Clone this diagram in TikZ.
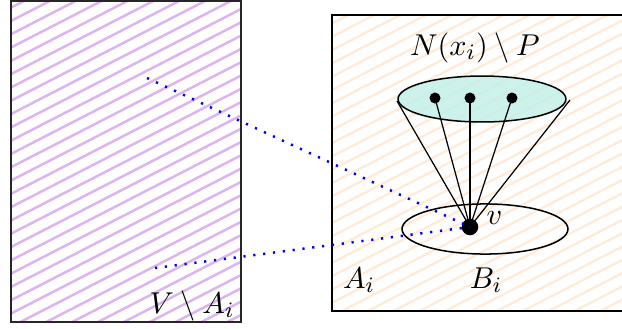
\documentclass[tikz,border=0pt]{standalone}
\usepackage{amsmath}
\usetikzlibrary{shapes.geometric}
\definecolor{hatchviolet}{RGB}{220,180,240}
\definecolor{hatchorange}{RGB}{255,235,216}
\definecolor{topfill}{RGB}{196,240,232}
\tikzset{
  region/.style={draw=black!85, line width=0.5pt},
  blob/.style={ellipse, draw=black, line width=0.55pt, inner sep=0pt},
  dotv/.style={circle, fill=black, inner sep=0pt, minimum size=4pt},
  bigv/.style={circle, fill=black, inner sep=0pt, minimum size=6pt},
  edge/.style={black, line width=0.45pt},
  bluedots/.style={blue, line width=0.9pt, dash pattern=on 0.8pt off 2.8pt},
  lbl/.style={inner sep=0pt, anchor=base, font=\fontsize{11.2}{13}\selectfont}
}
\begin{document}
\begin{tikzpicture}[x=0.3633pt,y=-0.3633pt]
\useasboundingbox (0,0) rectangle (622,329);
% left region
\fill[white] (11,1) rectangle (241,322);
\begin{scope}
  \clip (11,1) rectangle (241,322);
  \foreach \c in {0,13.3,...,480}
    \draw[hatchviolet, line width=0.9pt] (0,\c) -- (700,\c-360);
\end{scope}
\draw[region] (11,1) rectangle (241,322);
% right region
\begin{scope}
  \clip (332,15) rectangle (630,311);
  \foreach \c in {0,13.3,...,720}
    \draw[hatchorange, line width=0.85pt] (300,\c) -- (1000,\c-360);
\end{scope}
\draw[region, draw=black] (332,15) rectangle (630,311);
% ellipses
\node[blob, fill=topfill, fill opacity=0.85, draw opacity=1, minimum width=61pt, minimum height=16.7pt] (top) at (482,99) {};
\node[blob, minimum width=60.3pt, minimum height=18.2pt] (B) at (485,229) {};
% vertices
\node[dotv] (u1) at (435,98) {};
\node[dotv] (u2) at (470,98) {};
\node[dotv] (u3) at (512,98) {};
\coordinate (cl) at (397,101);
\coordinate (cr) at (570,100);
\node[bigv] (v) at (470,227) {};
% cone
\draw[edge] (v.center) -- (cl);
\draw[edge] (v.center) -- (cr);
\draw[edge] (v.center) -- (u1.center);
\draw[edge] (v.center) -- (u2.center);
\draw[edge] (v.center) -- (u3.center);
% dotted links
\coordinate (p1) at (147,78);
\coordinate (p2) at (155,268);
\draw[bluedots] (p1) -- (v.center);
\draw[bluedots] (p2) -- (v.center);
% labels
\node[lbl] (lN) at (475,55) {$N(x_i)\setminus P$};
\node[lbl, anchor=base west] (lv) at (486,224) {$v$};
\node[lbl] (lA) at (359,288) {$A_i$};
\node[lbl] (lB) at (486,288) {$B_i$};
\node[lbl] (lVA) at (192,313) {$V\setminus A_i$};
\end{tikzpicture}
\end{document}
